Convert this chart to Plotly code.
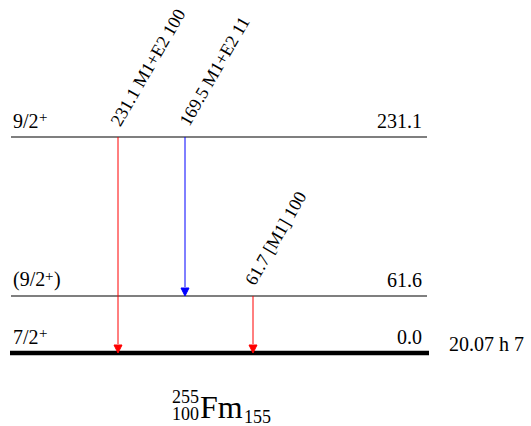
import plotly.graph_objects as go

# ---- data ----
level_energy = [0.0, 61.6, 231.1]
level_spin = ["7/2", "(9/2", "9/2"]
level_parity = ["+", "+", "+"]
level_spin_close = ["", ")", ""]
level_halflife = ["20.07 h 7", "", ""]

gamma_energy = [231.1, 169.5, 61.7]
gamma_mult = ["M1+E2", "M1+E2", "[M1]"]
gamma_intensity = [100, 11, 100]
gamma_from = [2, 2, 1]   # index into levels
gamma_to = [0, 1, 0]

nucleus_A, nucleus_Z, nucleus_N, nucleus_sym = 255, 100, 155, "Fm"

# ---- drawing layout (schematic, pixel-like canvas) ----
W, H = 531, 426
level_row = [353, 296, 137]          # schematic vertical placement of levels
x_left, x_right = 11, 427
gamma_col = [118, 185, 253]
gamma_color = ["#ff0000", "#0000ff", "#ff0000"]
FONT = "Liberation Serif, Times New Roman, serif"
LFS = 20
PFS = 15
# approximate Times advance widths (em)
CW = {"0": .5, "1": .5, "2": .5, "3": .5, "4": .5, "5": .5, "6": .5, "7": .5, "8": .5, "9": .5,
      "/": .278, "(": .333, ")": .333, "+": .564}


def text_w(s, fs):
    return sum(CW.get(ch, .5) for ch in s) * fs


fig = go.Figure()
ann = []

for i, e in enumerate(level_energy):
    y = level_row[i]
    ground = (e == 0.0)
    fig.add_trace(go.Scatter(
        x=[x_left - (1 if ground else 0), x_right + (2 if ground else 0)], y=[y, y],
        mode="lines", line=dict(color="black", width=4.5 if ground else 1.2),
        hoverinfo="skip", showlegend=False))
    xs = x_left
    ann.append(dict(x=xs, y=y - 3, text=level_spin[i], xanchor="left", yanchor="bottom",
                    showarrow=False, font=dict(family=FONT, size=LFS, color="black")))
    xs += text_w(level_spin[i], LFS)
    ann.append(dict(x=xs, y=y - 10, text=level_parity[i], xanchor="left", yanchor="bottom",
                    showarrow=False, font=dict(family=FONT, size=PFS, color="black")))
    xs += text_w(level_parity[i], PFS)
    if level_spin_close[i]:
        ann.append(dict(x=xs, y=y - 3, text=level_spin_close[i], xanchor="left", yanchor="bottom",
                        showarrow=False, font=dict(family=FONT, size=LFS, color="black")))
    ann.append(dict(x=x_right - 3, y=y - 3, text=f"{e:.1f}", xanchor="right", yanchor="bottom",
                    showarrow=False, font=dict(family=FONT, size=LFS, color="black")))
    if level_halflife[i]:
        ann.append(dict(x=x_right + 20, y=y + 4, text=level_halflife[i], xanchor="left", yanchor="bottom",
                        showarrow=False, font=dict(family=FONT, size=LFS, color="black")))

AH = 9
lab_dx = [-14, -12, -15]
for k, eg in enumerate(gamma_energy):
    x = gamma_col[k]
    y0 = level_row[gamma_from[k]]
    y1 = level_row[gamma_to[k]]
    c = gamma_color[k]
    fig.add_trace(go.Scatter(x=[x, x], y=[y0, y1 - AH], mode="lines",
                             line=dict(color=c, width=1), hoverinfo="skip", showlegend=False))
    fig.add_trace(go.Scatter(x=[x], y=[y1], mode="markers",
                             marker=dict(symbol="arrow-down", size=8, color=c,
                                         line=dict(color=c, width=1)),
                             hoverinfo="skip", showlegend=False))
    ann.append(dict(x=x + lab_dx[k], y=y0 - 5, text=f"{eg:.1f} {gamma_mult[k]} {gamma_intensity[k]}",
                    textangle=-60, xanchor="left", yanchor="bottom", showarrow=False,
                    font=dict(family=FONT, size=18, color="black")))

# nucleus label
ann.append(dict(x=201, y=397, text=str(nucleus_A), xanchor="right", yanchor="middle", showarrow=False,
                font=dict(family=FONT, size=18, color="black")))
ann.append(dict(x=201, y=414, text=str(nucleus_Z), xanchor="right", yanchor="middle", showarrow=False,
                font=dict(family=FONT, size=18, color="black")))
ann.append(dict(x=198, y=407, text=nucleus_sym, xanchor="left", yanchor="middle", showarrow=False,
                font=dict(family=FONT, size=32, color="black")))
ann.append(dict(x=242, y=417, text=str(nucleus_N), xanchor="left", yanchor="middle", showarrow=False,
                font=dict(family=FONT, size=18, color="black")))

fig.update_layout(
    width=W, height=H, margin=dict(l=0, r=0, t=0, b=0),
    paper_bgcolor="white", plot_bgcolor="white",
    xaxis=dict(range=[0, W], visible=False, fixedrange=True),
    yaxis=dict(range=[H, 0], visible=False, fixedrange=True),
    annotations=ann, showlegend=False,
)
fig.write_html("out.html", config={"displayModeBar": False, "staticPlot": True},
               post_script="document.body.style.margin='0';document.body.style.overflow='hidden';")
